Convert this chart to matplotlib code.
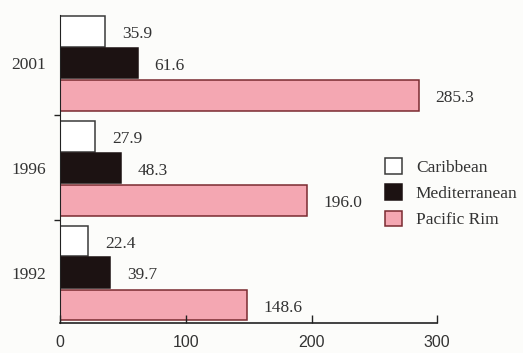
import matplotlib.pyplot as plt
import numpy as np

# Values by year
years = ['1992', '1996', '2001']
caribbean = [22.4, 27.9, 35.9]
mediterranean = [39.7, 48.3, 61.6]
pacific_rim = [148.6, 196.0, 285.3]

plt.rcParams['font.family'] = 'Liberation Serif'

fig = plt.figure(figsize=(5.23, 3.53), dpi=100, facecolor='#fcfcfa')
ax = fig.add_axes([0.115, 0.085, 0.721, 0.873])
ax.set_facecolor('#fcfcfa')

y = np.arange(len(years))
h = 0.29
series = [
    (caribbean, 0.30, 'white', '#3a3a3a', 'Caribbean'),
    (mediterranean, 0.0, '#1c1212', '#1c1212', 'Mediterranean'),
    (pacific_rim, -0.31, '#f4a7b2', '#7a2a30', 'Pacific Rim'),
]
for vals, off, fc, ec, lab in series:
    bars = ax.barh(y + off, vals, height=h, color=fc, edgecolor=ec,
                   linewidth=1.1, label=lab)
    for b, v in zip(bars, vals):
        ax.annotate(f'{v:.1f}', (v, b.get_y() + b.get_height() / 2),
                    xytext=(12, -2), textcoords='offset points',
                    va='center', ha='left', fontsize=12.5, color='#333333')

ax.set_xlim(0, 300)
ax.set_ylim(-0.48, 2.46)
ax.set_xticks([0, 100, 200, 300])
ax.set_xticklabels(['0', '100', '200', '300'], family='Liberation Sans',
                   fontsize=11.5, color='#333333')
ax.set_yticks(y)
ax.set_yticklabels(years, fontsize=12.5, color='#333333')
ax.tick_params(axis='y', length=0, pad=10)
ax.set_yticks([0.5, 1.5], minor=True)
ax.tick_params(axis='y', which='minor', length=4, width=1, color='#222222')
ax.tick_params(axis='x', length=6, width=1, direction='in', color='#222222', pad=9)

for s in ['top', 'right']:
    ax.spines[s].set_visible(False)
ax.spines['left'].set_color('#222222')
ax.spines['bottom'].set_color('#222222')
ax.spines['bottom'].set_linewidth(1.2)

ax.legend(loc='upper left', bbox_to_anchor=(0.842, 0.558), frameon=False,
          fontsize=12.5, handlelength=1.0, handleheight=1.0,
          handletextpad=0.8, labelspacing=0.5, labelcolor='#333333',
          borderaxespad=0)

fig.savefig('out.png', dpi=100, facecolor=fig.get_facecolor())
